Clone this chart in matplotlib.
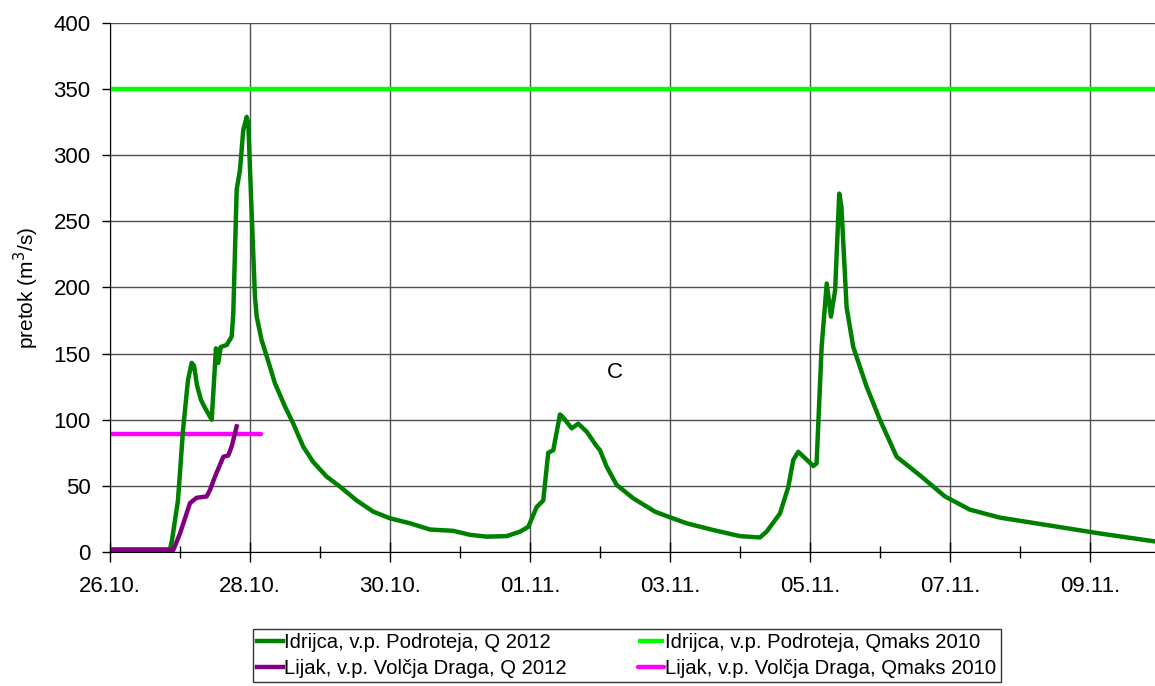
import matplotlib
matplotlib.use("Agg")
import matplotlib.pyplot as plt
from matplotlib.ticker import MultipleLocator

plt.rcParams['font.family'] = ['Liberation Sans', 'DejaVu Sans']

# days counted from 26.10. 00:00
idr_days = [0.0, 0.857, 0.886, 0.971, 1.043, 1.114, 1.167, 1.2, 1.243, 1.3, 1.357,
            1.453, 1.514, 1.547, 1.581, 1.667, 1.739, 1.761, 1.81, 1.857, 1.904,
            1.953, 1.976, 2.024, 2.071, 2.096, 2.167, 2.239, 2.357, 2.5, 2.619,
            2.761, 2.904, 3.096, 3.286, 3.524, 3.761, 4.0, 4.286, 4.571, 4.904,
            5.143, 5.381, 5.667, 5.857, 5.976, 6.096, 6.19, 6.261, 6.333, 6.429,
            6.471, 6.596, 6.69, 6.81, 6.953, 7.0, 7.096, 7.239, 7.476, 7.786,
            7.976, 8.239, 8.619, 9.0, 9.286, 9.381, 9.571, 9.69, 9.762, 9.833,
            9.929, 10.048, 10.095, 10.167, 10.24, 10.3, 10.36, 10.419, 10.45,
            10.524, 10.619, 10.81, 11.0, 11.239, 11.571, 11.929, 12.286, 12.714,
            13.429, 14.143, 14.929]
idr_q = [2, 2, 9, 39, 92, 130, 143, 141, 126, 115, 109,
         100, 154, 143, 155, 156.5, 163, 180, 274, 289, 319,
         329, 324, 256, 193, 178, 160, 148, 127.5, 110, 97,
         79.6, 68, 57, 49.4, 39, 30.5, 25.5, 21.7, 17, 16,
         13, 11.6, 12, 15.4, 19, 34, 39, 75, 77, 104,
         102, 93.5, 97, 91, 80, 77, 64.5, 50.7, 40.6, 30.5,
         26.7, 21.7, 16.6, 12, 11, 15.4, 29, 49, 69.6, 75.8,
         71, 65, 67, 155, 203, 178, 198, 271, 261,
         185, 155, 125, 100, 72, 58, 42, 32, 26,
         20, 14, 8]

lij_days = [0.0, 0.905, 1.0, 1.143, 1.238, 1.381, 1.429, 1.5, 1.619, 1.69, 1.739, 1.81]
lij_q = [1.5, 1.5, 14, 37, 41, 42, 47, 57, 72, 73, 80, 95]

idr_qmax_days = [0.0, 14.93]
idr_qmax = [350, 350]
lij_qmax_days = [0.0, 2.16]
lij_qmax = [89, 89]

tick_days = [0, 2, 4, 6, 8, 10, 12, 14]
tick_labels = ["26.10.", "28.10.", "30.10.", "01.11.", "03.11.", "05.11.", "07.11.", "09.11."]

fig = plt.figure(figsize=(11.55, 6.86), dpi=100)
ax = fig.add_axes([110 / 1155, 1 - 552 / 686, 1 - 110 / 1155, (552 - 23) / 686])

l3, = ax.plot(idr_qmax_days, idr_qmax, color='#00ff00', lw=3.2, solid_capstyle='butt',
              label="Idrijca, v.p. Podroteja, Qmaks 2010")
l4, = ax.plot(lij_qmax_days, lij_qmax, color='#ff00ff', lw=3.2, solid_capstyle='round',
              label="Lijak, v.p. Volčja Draga, Qmaks 2010")
l1, = ax.plot(idr_days, idr_q, color='#008000', lw=3.2, solid_joinstyle='round',
              label="Idrijca, v.p. Podroteja, Q 2012")
l2, = ax.plot(lij_days, lij_q, color='#800080', lw=3.2, solid_joinstyle='round',
              label="Lijak, v.p. Volčja Draga, Q 2012")

ax.set_xlim(0, 14.93)
ax.set_ylim(0, 400)
ax.set_xticks(tick_days)
ax.set_xticklabels(tick_labels)
ax.xaxis.set_minor_locator(MultipleLocator(1))
ax.yaxis.set_major_locator(MultipleLocator(50))
ax.tick_params(axis='x', which='major', direction='inout', length=14, width=1, pad=10, labelsize=16)
ax.tick_params(axis='x', which='minor', direction='inout', length=9, width=1)
ax.tick_params(axis='y', which='major', direction='out', length=6, width=1, pad=8, labelsize=16)
ax.grid(True, which='major', color='#505050', lw=1)
ax.set_axisbelow(True)
for s in ['top', 'right']:
    ax.spines[s].set_visible(False)
ax.set_ylabel("pretok (m$^3$/s)", fontsize=15)
ax.yaxis.set_label_coords(-(110 - 41) / 1045, 0.5)

ax.text(7.21, 136, "C", fontsize=16, ha='center', va='center')

leg = fig.legend([l1, l2, l3, l4], [l1.get_label(), l2.get_label(), l3.get_label(), l4.get_label()],
                 ncol=2, loc='upper left', bbox_to_anchor=(253 / 1155, 1 - 629 / 686),
                 fontsize=14.6, frameon=True, fancybox=False, edgecolor='black',
                 handlelength=1.3, handletextpad=0.05, columnspacing=3.5, borderaxespad=0,
                 labelspacing=0.35, borderpad=0.2)
leg.get_frame().set_linewidth(1)

fig.savefig("out.png", dpi=100)
